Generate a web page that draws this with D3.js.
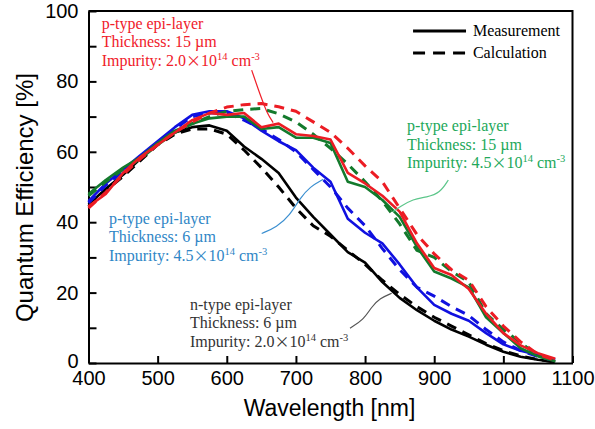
<!DOCTYPE html>
<html>
<head>
<meta charset="utf-8">
<script src="https://cdn.jsdelivr.net/npm/d3@7"></script>
<style>
  body { margin: 0; background: #fff; }
  .tick text { font-family: "Liberation Sans", Arial, sans-serif; font-size: 20px; fill: #000; }
  .ann { font-family: "Liberation Serif", "Times New Roman", serif; font-size: 16px; }
</style>
</head>
<body>
<script>
// wavelength grid [nm]
var wavelength = [400, 425, 450, 475, 500, 525, 550, 575, 600, 625, 650, 675, 700, 725,
                  750, 775, 800, 825, 850, 875, 900, 925, 950, 975, 1000, 1025, 1050, 1075];

// quantum efficiency [%]
var nType6Meas  = [45, 49.5, 53.5, 58, 62.5, 65.5, 67, 67.5, 66, 61.5, 58, 54, 47, 41.5,
                   36.5, 31.5, 28.5, 23, 18.5, 15, 12, 9.5, 7.5, 5.2, 3.2, 1.8, 0.9, 0.3];
var nType6Calc  = [44.5, 49, 53, 57.5, 62, 65, 66.5, 66.5, 65, 60.5, 55.5, 50, 44, 39,
                   36, 32, 28, 23.5, 19.5, 16, 13, 10.5, 8, 5.5, 3.5, 2, 1, 0.3];
var pType6Meas  = [46, 51, 55, 59, 63, 67, 70.5, 71.5, 71.5, 69.5, 66, 63, 60.5, 55.5,
                   51.5, 41, 37, 34, 28, 21.5, 16.5, 14, 12, 8.5, 5.3, 3.5, 2.3, 1];
var pType6Calc  = [45.5, 50.5, 54.5, 58.5, 62.5, 66.5, 70, 71, 71, 69, 66.5, 63.5, 60, 55,
                   50, 44, 39, 32.5, 26.5, 21.5, 19, 16, 13.5, 9.5, 6, 3.5, 1.8, 0.8];
var pType15Meas = [44.5, 48, 54, 58.5, 62, 65.5, 69, 71, 70.5, 71, 67, 68, 65, 64.5,
                   63.5, 54, 51, 47.5, 43, 34, 27, 25, 21, 14, 8.5, 5, 2.8, 1.2];
var pType15Calc = [44, 48.5, 53.5, 58, 62, 65.5, 68.5, 71, 72.7, 73.4, 73.7, 72.8, 71.5, 68.5,
                   65.5, 61, 56, 51.5, 44, 36.5, 31, 26.5, 23.5, 16, 10.5, 6, 2.5, 0.8];
var pType15bMeas = [48, 52, 55.5, 58.5, 62.5, 66, 68, 69.5, 70, 70, 66.5, 67, 64, 64,
                    62.5, 51.5, 50, 46.3, 41.5, 33, 26, 24, 21.5, 13, 8.5, 4.2, 1.9, 0.5];
var pType15bCalc = [47.5, 51.5, 55, 58, 62, 65.5, 68, 70, 71.5, 72, 72.3, 70.8, 68.5, 65,
                    61, 56.5, 51.5, 46, 39.5, 32, 30, 26, 23, 14, 9.5, 5.8, 2, 0.5];

var xTicks = [400, 500, 600, 700, 800, 900, 1000, 1100];
var yTicks = [0, 10, 20, 30, 40, 50, 60, 70, 80, 90, 100];

var width = 595, height = 429;

var svg = d3.select("body").append("svg")
    .attr("width", width)
    .attr("height", height);

var x = d3.scaleLinear().domain([400, 1100]).range([88.5, 572.5]);
var y = d3.scaleLinear().domain([0, 100]).range([363, 11]);

// frame (top + right)
svg.append("path")
    .attr("d", "M" + x(400) + "," + y(100) + "H" + x(1100) + "V" + y(0))
    .attr("fill", "none")
    .attr("stroke", "#000")
    .attr("stroke-width", 2);

var xAxis = d3.axisBottom(x).tickValues(xTicks).tickSizeInner(-7).tickSizeOuter(0).tickPadding(8)
    .tickFormat(d3.format("d"));
var yAxis = d3.axisLeft(y).tickValues(yTicks).tickSizeInner(-8).tickSizeOuter(0).tickPadding(10)
    .tickFormat(function(d) { return d % 20 === 0 ? d : ""; });

svg.append("g")
    .attr("class", "x axis")
    .attr("transform", "translate(0," + y(0) + ")")
    .call(xAxis);

svg.append("g")
    .attr("class", "y axis")
    .attr("transform", "translate(" + x(400) + ",0)")
    .call(yAxis);

// zero label sits a touch higher so it clears the 400 label
svg.selectAll(".y.axis .tick text").filter(function(d) { return d === 0; }).attr("dy", "0.2em");

svg.selectAll(".axis path, .axis line")
    .attr("stroke", "#000")
    .attr("stroke-width", 2);

// axis titles
svg.append("text")
    .attr("x", (x(400) + x(1100)) / 2 - 1)
    .attr("y", 416)
    .attr("text-anchor", "middle")
    .style("font-family", "Liberation Sans, Arial, sans-serif")
    .style("font-size", "23px")
    .text("Wavelength [nm]");

svg.append("text")
    .attr("transform", "translate(33," + y(47) + ") rotate(-90)")
    .attr("text-anchor", "middle")
    .style("font-family", "Liberation Sans, Arial, sans-serif")
    .style("font-size", "24px")
    .text("Quantum Efficiency [%]");

// curves
var series = [
    {values: nType6Calc,   color: "#000000", dash: true},
    {values: nType6Meas,   color: "#000000", dash: false},
    {values: pType6Calc,   color: "#1010e0", dash: true},
    {values: pType6Meas,   color: "#1010e0", dash: false},
    {values: pType15bCalc, color: "#137a2c", dash: true},
    {values: pType15bMeas, color: "#137a2c", dash: false},
    {values: pType15Calc,  color: "#ec1c24", dash: true},
    {values: pType15Meas,  color: "#ec1c24", dash: false}
];

var line = d3.line()
    .x(function(d, i) { return x(wavelength[i]); })
    .y(function(d) { return y(d); });

svg.append("g").attr("class", "curves")
  .selectAll("path")
  .data(series)
  .enter().append("path")
    .attr("d", function(s) { return line(s.values); })
    .attr("fill", "none")
    .attr("stroke", function(s) { return s.color; })
    .attr("stroke-width", function(s) { return s.dash ? 3 : 2.6; })
    .attr("stroke-dasharray", function(s) { return s.dash ? "10,7" : null; })
    .attr("stroke-linejoin", "round");

// legend
var legend = svg.append("g").attr("class", "legend");
[{label: "Measurement", dash: null, q: 94.3}, {label: "Calculation", dash: "12,8", q: 88.1}].forEach(function(l) {
    legend.append("line")
        .attr("x1", x(869.4)).attr("x2", x(946))
        .attr("y1", y(l.q)).attr("y2", y(l.q))
        .attr("stroke", "#000")
        .attr("stroke-width", 3)
        .attr("stroke-dasharray", l.dash);
    legend.append("text")
        .attr("class", "ann")
        .attr("x", x(956)).attr("y", y(l.q) + 5)
        .attr("fill", "#000")
        .text(l.label);
});

// annotations
var notes = [
    {lines: ["p-type epi-layer", "Thickness: 15 \u00b5m", "2.0"], at: [419, 94.9], color: "#f0202a",
     leader: [[636, 83.2], [646, 77.5], [651, 74.8], [658, 71.1], [667, 68.3]], leaderColor: "#f0202a"},
    {lines: ["p-type epi-layer", "Thickness: 15 \u00b5m", "4.5"], at: [860.6, 65.9], color: "#22a85a",
     leader: [[920.4, 52.0], [908.4, 48.3], [889.2, 47.1], [869.3, 46.6], [850.5, 44.4], [840.4, 43.0]], leaderColor: "#5cc68a"},
    {lines: ["p-type epi-layer", "Thickness: 6 \u00b5m", "4.5"], at: [429.6, 39.6], color: "#2f86c6",
     leader: [[650.5, 36.8], [672.2, 38.6], [691.4, 42.0], [705.9, 46.8], [720.4, 50.1], [739.6, 52.2]], leaderColor: "#3b8fd0"},
    {lines: ["n-type epi-layer", "Thickness: 6 \u00b5m", "2.0"], at: [546.8, 15.1], color: "#333333",
     leader: [[778.2, 9.9], [797.5, 12.2], [809.6, 16.0], [821.6, 18.4], [838.5, 19.8]], leaderColor: "#555555"}
];

var leaderLine = d3.line()
    .x(function(d) { return x(d[0]); })
    .y(function(d) { return y(d[1]); })
    .curve(d3.curveBasis);

notes.forEach(function(n) {
    svg.append("path")
        .attr("d", leaderLine(n.leader))
        .attr("fill", "none")
        .attr("stroke", n.leaderColor)
        .attr("stroke-width", 1.2);

    var t = svg.append("text")
        .attr("class", "ann")
        .attr("x", x(n.at[0]))
        .attr("y", y(n.at[1]))
        .attr("fill", n.color);
    t.append("tspan").attr("x", x(n.at[0])).attr("dy", 0).text(n.lines[0]);
    t.append("tspan").attr("x", x(n.at[0])).attr("dy", 18.5).text(n.lines[1]);
    var t3 = t.append("tspan").attr("x", x(n.at[0])).attr("dy", 18.5);
    t3.text("Impurity: " + n.lines[2]);
    t.append("tspan").style("font-family", "Noto Sans CJK JP").style("font-size", "15px").text("\u00d7");
    t.append("tspan").text("10");
    t.append("tspan").attr("dy", -6).style("font-size", "10.5px").text("14");
    t.append("tspan").attr("dy", 6).text(" cm");
    t.append("tspan").attr("dy", -6).style("font-size", "10.5px").text("-3");
});
</script>
</body>
</html>
